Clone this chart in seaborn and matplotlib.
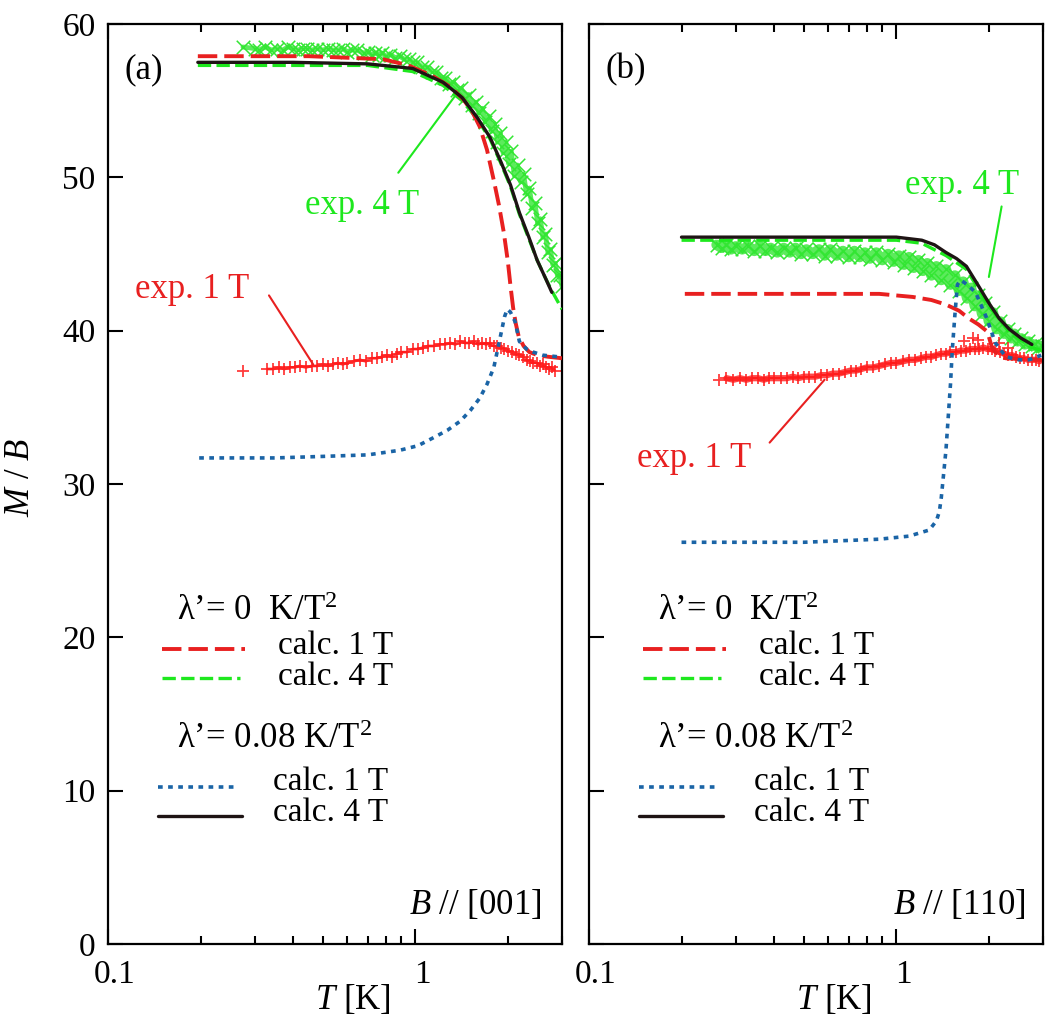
import seaborn as sns
import matplotlib
matplotlib.use("Agg")
import matplotlib.pyplot as plt
import matplotlib.transforms as mtransforms
from matplotlib.ticker import FixedLocator, NullFormatter, FixedFormatter

sns.set_style("ticks")
plt.rcParams['font.family'] = ['Liberation Serif', 'DejaVu Serif']
plt.rcParams['mathtext.fontset'] = 'custom'
plt.rcParams['mathtext.rm'] = 'Liberation Serif'
plt.rcParams['mathtext.it'] = 'Liberation Serif:italic'
plt.rcParams['text.color'] = 'black'
plt.rcParams['axes.labelcolor'] = 'black'
plt.rcParams['xtick.color'] = 'black'
plt.rcParams['ytick.color'] = 'black'

# ---------------- panel (a): B // [001] ----------------
a_exp4_T = [0.275, 0.30, 0.31, 0.325, 0.34, 0.355, 0.37, 0.385, 0.40, 0.415,
            0.43, 0.445, 0.46, 0.48, 0.50, 0.52, 0.54, 0.56, 0.58, 0.60,
            0.62, 0.645, 0.68, 0.70, 0.72, 0.74, 0.76, 0.78, 0.80, 0.83,
            0.86, 0.89, 0.92, 0.95, 0.98, 1.01, 1.05, 1.09, 1.13, 1.17,
            1.21, 1.25, 1.29, 1.33, 1.37, 1.41, 1.45, 1.49, 1.53, 1.57,
            1.61, 1.65, 1.69, 1.73, 1.77, 1.81, 1.85, 1.89, 1.93, 1.97,
            2.01, 2.05, 2.10, 2.15, 2.20, 2.25, 2.30, 2.35, 2.40, 2.45,
            2.50, 2.55, 2.60, 2.65, 2.70, 2.75, 2.80, 2.85, 2.90, 2.95, 3.0]
a_exp4_M = [58.5, 58.4, 58.3, 58.5, 58.3, 58.4, 58.3, 58.5, 58.4, 58.3,
            58.4, 58.4, 58.3, 58.4, 58.3, 58.4, 58.3, 58.3, 58.4, 58.2,
            58.3, 58.3, 58.1, 58.2, 58.0, 58.1, 58.0, 58.1, 57.9, 58.0,
            57.8, 57.9, 57.7, 57.7, 57.5, 57.5, 57.2, 57.2, 56.9, 56.9,
            56.5, 56.5, 56.1, 56.2, 55.7, 55.8, 55.2, 55.4, 54.7, 54.9,
            54.2, 54.5, 53.6, 54.0, 53.0, 53.5, 52.3, 52.9, 51.6, 52.3,
            50.9, 51.7, 50.1, 50.8, 49.7, 50.2, 48.9, 49.3, 48.0, 48.3,
            47.0, 47.3, 46.1, 46.3, 45.1, 45.3, 44.3, 44.4, 43.6, 43.6, 42.9]

a_exp1_T = [0.275, 0.33, 0.345, 0.36, 0.375, 0.39, 0.405, 0.42, 0.44, 0.46,
            0.48, 0.50, 0.52, 0.54, 0.56, 0.58, 0.60, 0.63, 0.66, 0.69,
            0.72, 0.75, 0.78, 0.81, 0.84, 0.87, 0.90, 0.94, 0.98, 1.02,
            1.06, 1.10, 1.15, 1.20, 1.25, 1.30, 1.35, 1.40, 1.45, 1.50,
            1.55, 1.60, 1.65, 1.70, 1.75, 1.80, 1.85, 1.90, 1.95, 2.00,
            2.06, 2.12, 2.18, 2.24, 2.30, 2.36, 2.42, 2.48, 2.54, 2.60,
            2.66, 2.72, 2.78, 2.84]
a_exp1_M = [37.4, 37.5, 37.5, 37.6, 37.5, 37.6, 37.6, 37.7, 37.6, 37.7,
            37.7, 37.8, 37.7, 37.8, 37.9, 37.8, 37.9, 38.0, 38.1, 38.0,
            38.2, 38.2, 38.3, 38.4, 38.3, 38.5, 38.6, 38.6, 38.8, 38.8,
            38.9, 39.0, 39.0, 39.1, 39.1, 39.2, 39.1, 39.3, 39.2, 39.2,
            39.3, 39.1, 39.2, 39.1, 39.2, 39.0, 39.0, 38.9, 38.8, 38.7,
            38.6, 38.5, 38.4, 38.3, 38.1, 38.0, 37.9, 37.9, 37.7, 37.8,
            37.6, 37.5, 37.6, 37.4]

a_calc1_l0_T = [0.196, 0.3, 0.45, 0.6, 0.786, 0.95, 1.14, 1.3, 1.43, 1.53,
                1.62, 1.71, 1.80, 1.87, 1.94, 2.0, 2.04, 2.08, 2.12, 2.17,
                2.25, 2.35, 2.5, 2.7, 3.0]
a_calc1_l0_M = [57.9, 57.9, 57.9, 57.8, 57.7, 57.3, 56.6, 55.9, 55.1, 54.3,
                53.3, 51.8, 49.8, 48.2, 46.4, 44.5, 42.9, 41.5, 40.5, 39.6,
                39.0, 38.6, 38.4, 38.3, 38.2]
a_calc4_l0_T = [0.196, 0.4, 0.7, 0.98, 1.23, 1.42, 1.59, 1.75, 1.89, 2.04,
                2.18, 2.34, 2.49, 2.64, 2.78, 3.0]
a_calc4_l0_M = [57.3, 57.3, 57.3, 56.9, 56.0, 55.0, 53.8, 52.5, 51.0, 49.4,
                47.6, 46.0, 44.6, 43.5, 42.6, 41.4]
a_calc1_l8_T = [0.198, 0.35, 0.5, 0.7, 0.89, 1.02, 1.14, 1.27, 1.40, 1.51,
                1.62, 1.71, 1.80, 1.89, 1.95, 1.99, 2.04, 2.11, 2.18, 2.3,
                2.42, 2.6, 2.9]
a_calc1_l8_M = [31.7, 31.7, 31.8, 31.9, 32.2, 32.5, 33.0, 33.5, 34.1, 34.8,
                35.6, 36.5, 37.6, 39.6, 40.9, 41.4, 41.2, 40.6, 39.3, 38.8,
                38.6, 38.4, 38.3]
a_calc4_l8_T = [0.196, 0.4, 0.7, 0.98, 1.23, 1.42, 1.59, 1.75, 1.89, 2.04,
                2.18, 2.34, 2.49, 2.64, 2.78]
a_calc4_l8_M = [57.5, 57.5, 57.4, 57.1, 56.2, 55.2, 53.9, 52.6, 51.1, 49.5,
                47.7, 46.1, 44.6, 43.5, 42.5]

# ---------------- panel (b): B // [110] ----------------
b_exp4_T = [0.26, 0.27, 0.28, 0.29, 0.30, 0.315, 0.33, 0.345, 0.36, 0.375,
            0.39, 0.41, 0.43, 0.45, 0.47, 0.49, 0.51, 0.535, 0.56, 0.585,
            0.61, 0.64, 0.67, 0.70, 0.73, 0.76, 0.79, 0.82, 0.86, 0.90,
            0.94, 0.98, 1.02, 1.06, 1.10, 1.14, 1.18, 1.22, 1.26, 1.30,
            1.35, 1.40, 1.45, 1.50, 1.55, 1.60, 1.65, 1.70, 1.75, 1.80,
            1.85, 1.90, 1.95, 2.00, 2.06, 2.12, 2.18, 2.24, 2.30, 2.36,
            2.42, 2.48, 2.55, 2.62, 2.69, 2.76, 2.83, 2.90, 2.97]
b_exp4_M = [45.6, 45.4, 45.6, 45.3, 45.5, 45.3, 45.5, 45.2, 45.5, 45.2,
            45.4, 45.1, 45.4, 45.1, 45.4, 45.0, 45.3, 45.0, 45.3, 44.9,
            45.3, 44.9, 45.2, 44.8, 45.2, 44.8, 45.1, 44.7, 45.1, 44.6,
            45.0, 44.5, 44.9, 44.3, 44.8, 44.1, 44.6, 43.9, 44.4, 43.6,
            44.2, 43.3, 44.0, 43.0, 43.6, 42.6, 43.2, 42.1, 42.8, 41.6,
            42.3, 41.1, 41.8, 40.6, 41.2, 40.1, 40.6, 39.8, 40.1, 39.5,
            39.8, 39.3, 39.5, 39.1, 39.3, 39.0, 39.1, 38.9, 39.0]

b_exp1_T = [0.265, 0.28, 0.295, 0.31, 0.325, 0.34, 0.355, 0.37, 0.385, 0.40,
            0.42, 0.44, 0.46, 0.48, 0.50, 0.52, 0.545, 0.57, 0.595, 0.62,
            0.65, 0.68, 0.71, 0.74, 0.77, 0.80, 0.84, 0.88, 0.92, 0.96,
            1.00, 1.05, 1.10, 1.15, 1.20, 1.25, 1.30, 1.35, 1.40, 1.45,
            1.50, 1.56, 1.62, 1.68, 1.74, 1.80, 1.86, 1.92, 1.98, 2.04,
            2.10, 2.17, 2.24, 2.31, 2.38, 2.45, 2.52, 2.60, 2.68, 2.76,
            2.84, 2.92]
b_exp1_M = [36.8, 36.9, 36.8, 36.9, 36.8, 36.9, 36.9, 36.8, 36.9, 36.9,
            36.9, 36.9, 37.0, 36.9, 37.0, 37.0, 37.0, 37.1, 37.1, 37.2,
            37.2, 37.3, 37.4, 37.4, 37.5, 37.6, 37.6, 37.7, 37.8, 37.9,
            37.9, 38.0, 38.1, 38.1, 38.2, 38.3, 38.3, 38.4, 38.5, 38.5,
            38.6, 38.6, 38.7, 38.7, 38.8, 38.8, 38.8, 38.9, 38.8, 38.8,
            38.7, 38.6, 38.5, 38.4, 38.4, 38.3, 38.2, 38.2, 38.1, 38.1,
            38.1, 38.0]
b_exp1_extra_T = [1.66, 1.77, 1.85, 2.16, 2.30]
b_exp1_extra_M = [39.3, 39.5, 39.4, 39.2, 38.9]

b_calc1_l0_T = [0.205, 0.4, 0.88, 1.13, 1.3, 1.45, 1.6, 1.72, 1.85, 1.96,
                2.0, 2.04, 2.1, 2.18, 2.27, 2.5, 2.97]
b_calc1_l0_M = [42.4, 42.4, 42.4, 42.2, 42.0, 41.7, 41.3, 40.8, 40.4, 40.0,
                39.6, 39.0, 38.6, 38.35, 38.2, 38.15, 38.1]
b_calc4_l0_T = [0.2, 0.5, 1.0, 1.21, 1.45, 1.69, 2.0, 2.33, 2.76, 2.97]
b_calc4_l0_M = [45.9, 45.9, 45.9, 45.7, 44.9, 44.0, 41.6, 39.9, 38.9, 38.7]
b_calc1_l8_T = [0.2, 0.5, 0.88, 1.1, 1.28, 1.35, 1.38, 1.40, 1.45, 1.50,
                1.52, 1.55, 1.58, 1.62, 1.70, 1.81, 1.96, 2.1, 2.27, 2.5,
                2.7, 2.96]
b_calc1_l8_M = [26.2, 26.2, 26.4, 26.6, 27.0, 27.6, 28.2, 29.1, 32.2, 36.5,
                38.7, 41.0, 43.0, 43.3, 43.0, 42.5, 40.9, 39.2, 38.3, 38.1,
                38.1, 38.4]
b_calc4_l8_T = [0.2, 0.5, 1.0, 1.1, 1.21, 1.33, 1.45, 1.57, 1.69, 1.84,
                2.0, 2.16, 2.33, 2.55, 2.76]
b_calc4_l8_M = [46.1, 46.1, 46.1, 46.0, 45.9, 45.6, 45.1, 44.7, 44.2, 43.0,
                41.8, 40.8, 40.1, 39.5, 39.1]

panel_tags = ["(a)", "(b)"]
field_dirs = ["[001]", "[110]"]
legend_heads = ["\u03bb\u2019= 0  K/T$^{2}$", "\u03bb\u2019= 0.08 K/T$^{2}$"]
legend_entries = ["calc. 1 T", "calc. 4 T"]

RED, GREEN, BLUE, BLACK = "#e82020", "#1ee81e", "#1a64a6", "#1e1414"
EXP_GREEN, EXP_RED = "#33e633", "#ff1a1a"
red_ls = (0, (5, 1.8))
green_ls = (0, (4, 1.6))
blue_ls = (0, (1.3, 1.5))

fig = plt.figure(figsize=(10.46, 10.30), dpi=100)
ax1 = fig.add_axes([108/1046, 1 - 944/1030, 454/1046, 920/1030])
ax2 = fig.add_axes([589/1046, 1 - 944/1030, 454/1046, 920/1030])

panels = [
    (ax1, a_exp4_T, a_exp4_M, a_exp1_T, a_exp1_M, a_calc1_l0_T, a_calc1_l0_M,
     a_calc4_l0_T, a_calc4_l0_M, a_calc1_l8_T, a_calc1_l8_M, a_calc4_l8_T, a_calc4_l8_M),
    (ax2, b_exp4_T, b_exp4_M, b_exp1_T, b_exp1_M, b_calc1_l0_T, b_calc1_l0_M,
     b_calc4_l0_T, b_calc4_l0_M, b_calc1_l8_T, b_calc1_l8_M, b_calc4_l8_T, b_calc4_l8_M),
]
# width of the faint trace through the measured points, per panel
band_green = [3.5, 7.5]
band_red = [2.0, 4.5]

# x tick labels sit a little right of their ticks in the original
label_shift = mtransforms.ScaledTranslation(7/100, 0, fig.dpi_scale_trans)

for i, (ax, e4T, e4M, e1T, e1M, c10T, c10M, c40T, c40M, c18T, c18M, c48T, c48M) in enumerate(panels):
    # measured data: dense markers on top of a trace through the same points
    sns.lineplot(x=e4T, y=e4M, estimator=None, color=EXP_GREEN, lw=band_green[i], alpha=0.8, ax=ax, zorder=1)
    sns.scatterplot(x=e4T, y=e4M, marker="x", s=95, color=EXP_GREEN, linewidth=1.1, ax=ax, zorder=2)
    sns.lineplot(x=e1T[1:], y=e1M[1:], estimator=None, color=EXP_RED, lw=band_red[i], alpha=0.8, ax=ax, zorder=1)
    sns.scatterplot(x=e1T, y=e1M, marker="+", s=80, color=EXP_RED, linewidth=1.3, alpha=0.85, ax=ax, zorder=2)

    sns.lineplot(x=c40T, y=c40M, estimator=None, color=GREEN, lw=2.4, linestyle=green_ls, ax=ax, zorder=3)
    sns.lineplot(x=c10T, y=c10M, estimator=None, color=RED, lw=2.8, linestyle=red_ls, ax=ax, zorder=3)
    sns.lineplot(x=c18T, y=c18M, estimator=None, color=BLUE, lw=2.6, linestyle=blue_ls, ax=ax, zorder=4)
    sns.lineplot(x=c48T, y=c48M, estimator=None, color=BLACK, lw=2.4, ax=ax, zorder=4)

    ax.set_xscale("log")
    ax.set_xlim(0.1, 3.0)
    ax.set_ylim(0, 60)
    ax.xaxis.set_major_locator(FixedLocator([0.1, 1]))
    ax.xaxis.set_major_formatter(FixedFormatter(["0.1", "1"]))
    ax.xaxis.set_minor_locator(FixedLocator([0.2, 0.3, 0.4, 0.5, 0.6, 0.7, 0.8, 0.9, 2, 3]))
    ax.xaxis.set_minor_formatter(NullFormatter())
    ax.set_yticks([0, 10, 20, 30, 40, 50, 60])
    ax.tick_params(which="both", direction="in", top=True, right=False, width=1.5,
                   labelsize=24, pad=9, colors="black")
    ax.tick_params(axis="x", pad=11)
    ax.tick_params(which="major", length=11)
    ax.tick_params(which="minor", length=6)
    for lab in ax.get_xticklabels():
        lab.set_transform(lab.get_transform() + label_shift)
    for sp in ax.spines.values():
        sp.set_linewidth(1.6)
        sp.set_color("black")
    ax.set_xlabel(r"$T$ [K]", fontsize=25)
    ax.xaxis.set_label_coords(0.54, -0.042)
    ax.set_ylabel("")

    ax.text(0.037, 0.95, panel_tags[i], transform=ax.transAxes, fontsize=25, va="center", ha="left")
    ax.text(0.955 if i == 0 else 0.962, 0.042, r"$B$ // " + field_dirs[i], transform=ax.transAxes,
            fontsize=25, va="center", ha="right")

    # legend block
    ax.text(0.152, 0.352, legend_heads[0], transform=ax.transAxes, fontsize=25, va="baseline")
    ax.plot([0.119, 0.302], [0.321, 0.321], transform=ax.transAxes, color=RED, lw=2.8, linestyle=red_ls)
    ax.text(0.374, 0.324, legend_entries[0], transform=ax.transAxes, fontsize=24, va="center")
    ax.plot([0.119, 0.290], [0.289, 0.289], transform=ax.transAxes, color=GREEN, lw=2.4, linestyle=green_ls)
    ax.text(0.374, 0.291, legend_entries[1], transform=ax.transAxes, fontsize=24, va="center")
    ax.text(0.152, 0.213, legend_heads[1], transform=ax.transAxes, fontsize=25, va="baseline")
    ax.plot([0.110, 0.286], [0.171, 0.171], transform=ax.transAxes, color=BLUE, lw=2.6, linestyle=blue_ls)
    ax.text(0.363, 0.176, legend_entries[0], transform=ax.transAxes, fontsize=24, va="center")
    ax.plot([0.110, 0.295], [0.139, 0.139], transform=ax.transAxes, color=BLACK, lw=2.4)
    ax.text(0.363, 0.143, legend_entries[1], transform=ax.transAxes, fontsize=24, va="center")

ax2.tick_params(labelleft=False)
sns.scatterplot(x=b_exp1_extra_T, y=b_exp1_extra_M, marker="+", s=80, color=EXP_RED,
                linewidth=1.3, alpha=0.85, ax=ax2, zorder=2)

# annotations with pointer lines
ax1.text(0.434, 0.803, "exp. 4 T", transform=ax1.transAxes, fontsize=25, color=GREEN, va="center")
ax1.plot([0.88, 1.38], [50.3, 55.6], color=GREEN, lw=1.5)
ax1.text(0.059, 0.711, "exp. 1 T", transform=ax1.transAxes, fontsize=25, color=RED, va="center")
ax1.plot([0.334, 0.465], [42.3, 37.8], color=RED, lw=1.5)

ax2.text(0.696, 0.825, "exp. 4 T", transform=ax2.transAxes, fontsize=25, color=GREEN, va="center")
ax2.plot([2.20, 2.00], [48.1, 43.5], color=GREEN, lw=1.5)
ax2.text(0.106, 0.528, "exp. 1 T", transform=ax2.transAxes, fontsize=25, color=RED, va="center")
ax2.plot([0.387, 0.584], [32.7, 36.8], color=RED, lw=1.5)

fig.text(21/1046, 1 - 478/1030, r"$M$ / $B$", rotation=90, ha="center", va="center", fontsize=25)

fig.savefig("out.png", dpi=100)
